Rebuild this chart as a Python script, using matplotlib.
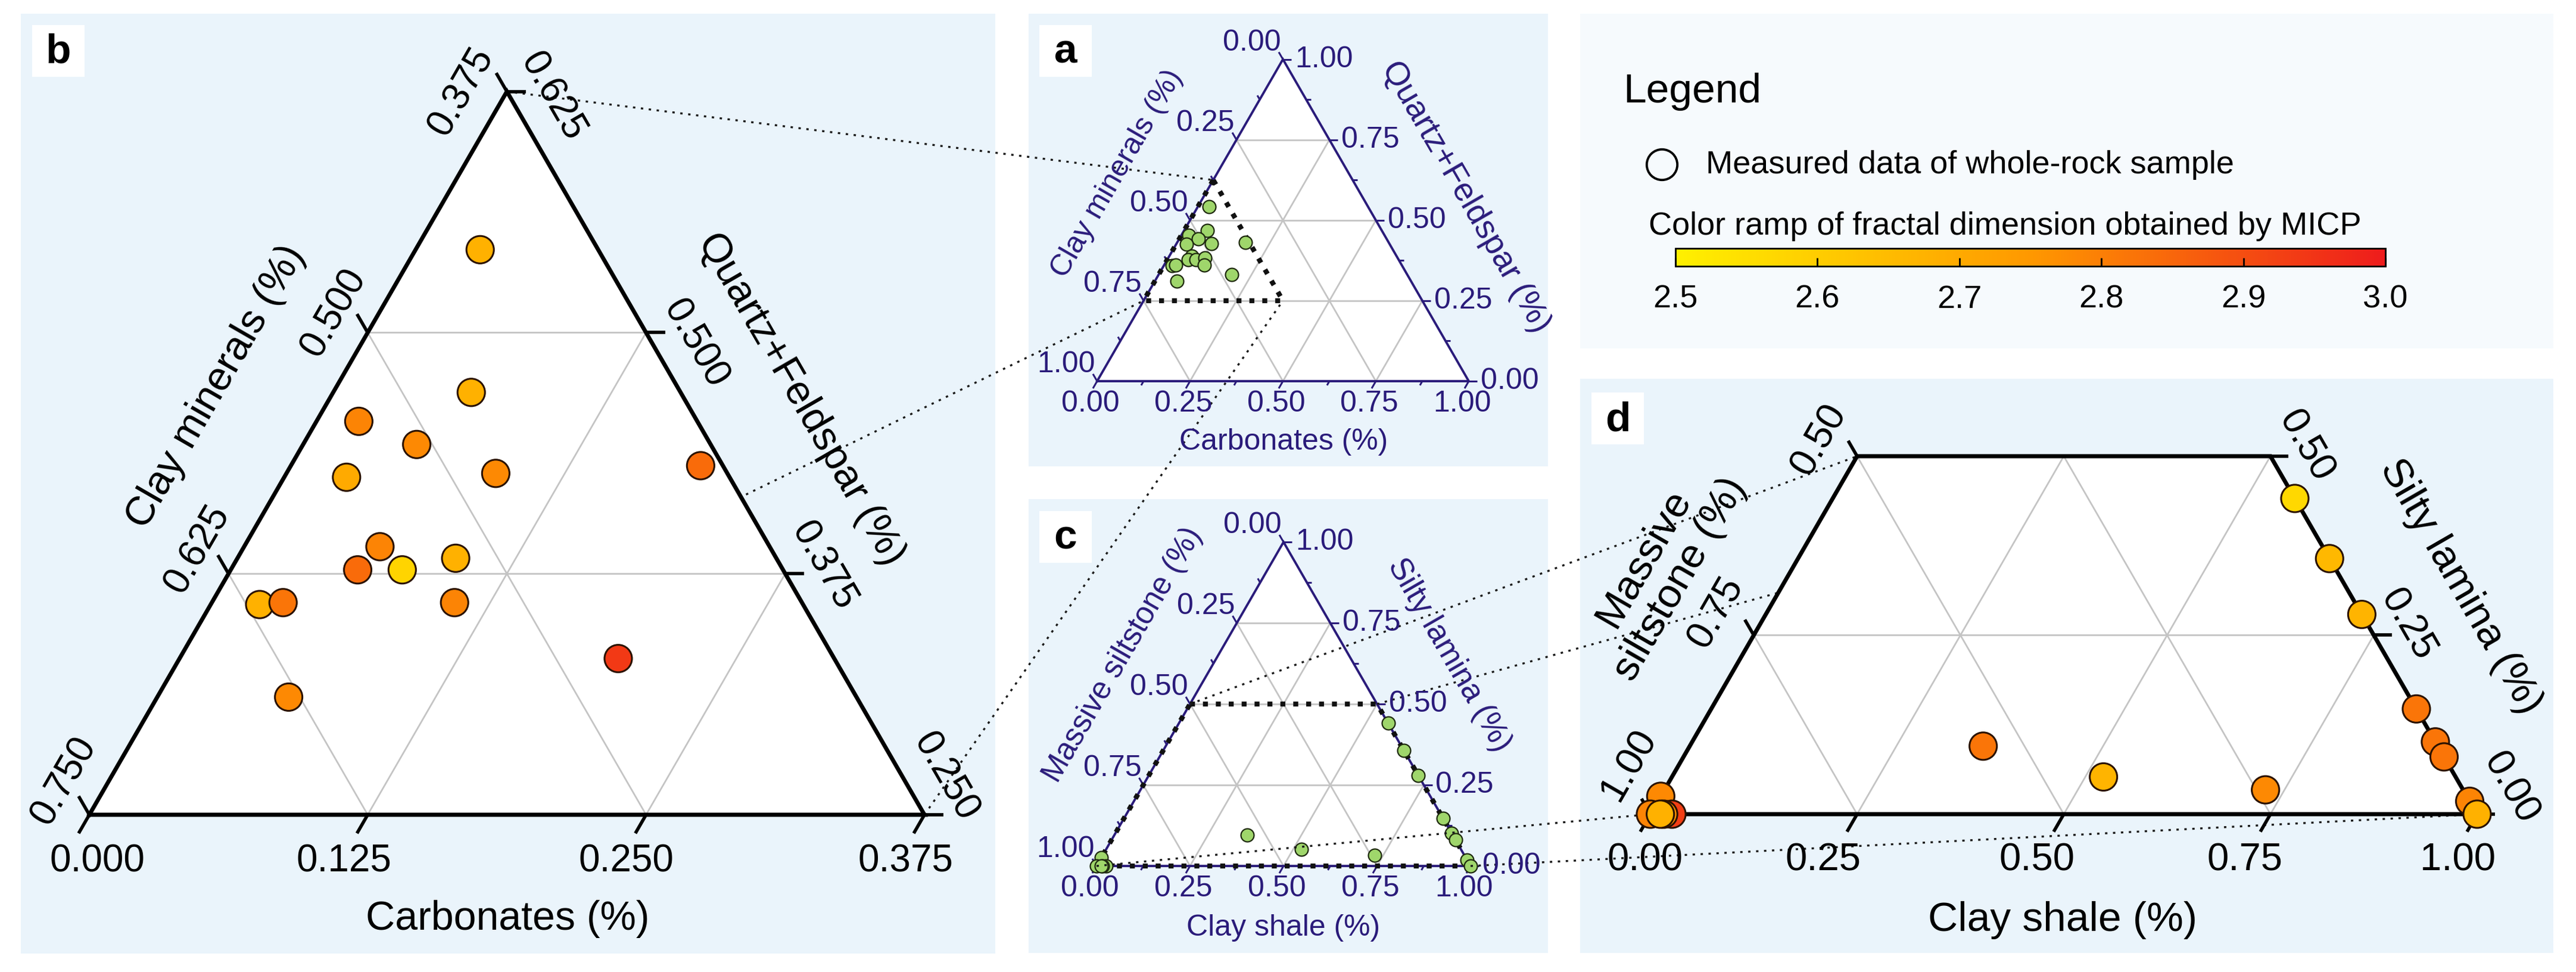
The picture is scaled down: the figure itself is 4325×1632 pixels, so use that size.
import numpy as np
import matplotlib.pyplot as plt
from matplotlib.colors import LinearSegmentedColormap, Normalize
from matplotlib.patches import Rectangle, Polygon
from matplotlib.cm import ScalarMappable

plt.rcParams['font.family'] = ['Liberation Sans', 'DejaVu Sans']

# ---- whole-rock mineralogy (fractions), panels a and b ----
carbonates = [0.029, 0.062, 0.019, 0.051, 0.028, 0.094, 0.184, 0.061,
              0.057, 0.077, 0.098, 0.109, 0.022, 0.032, 0.059, 0.197]
quartz_feldspar = [0.543, 0.469, 0.454, 0.442, 0.425, 0.427, 0.431, 0.389,
                   0.377, 0.377, 0.383, 0.360, 0.359, 0.360, 0.311, 0.331]
fd_mineral = [2.68, 2.68, 2.79, 2.78, 2.70, 2.78, 2.84, 2.79,
              2.84, 2.58, 2.68, 2.79, 2.68, 2.82, 2.78, 2.94]

# ---- lithofacies proportions (fractions), panels c and d ----
clay_shale = [0.0, 0.0, 0.026, 0.016, 0.012, 0.355, 0.522, 0.727,
              0.559, 0.643, 0.721, 0.853, 0.899, 0.920, 0.982, 1.0]
silty_lamina = [0.025, 0.0, 0.0, 0.0, 0.0, 0.095, 0.052, 0.034,
                0.441, 0.357, 0.279, 0.147, 0.101, 0.080, 0.018, 0.0]
fd_litho = [2.78, 2.79, 2.93, 2.77, 2.68, 2.82, 2.67, 2.78,
            2.57, 2.66, 2.67, 2.82, 2.82, 2.82, 2.79, 2.68]

# ---- tick values ----
ticks_full = [0.0, 0.25, 0.5, 0.75, 1.0]
ticks_b_carb = [0.0, 0.125, 0.25, 0.375]
ticks_b_clay = [0.375, 0.5, 0.625, 0.75]
ticks_b_qf = [0.25, 0.375, 0.5, 0.625]
ticks_d_cs = [0.0, 0.25, 0.5, 0.75, 1.0]
ticks_d_ms = [0.5, 0.75, 1.0]
ticks_d_sl = [0.0, 0.25, 0.5]
fd_ticks = [2.5, 2.6, 2.7, 2.8, 2.9, 3.0]

NAVY = '#2a1b7a'
GRID = '#c4c4c4'
BG = '#eaf4fb'
SQ = np.sqrt(3) / 2

cmap = LinearSegmentedColormap.from_list('fd', ['#fff000', '#ff9800', '#ee1c1c'])
norm = Normalize(2.5, 3.0)

# panel geometry in pixels: origin of the full triangle (bottom-left vertex) and side length
PAN = {
    'a': (1842, 640, 624),
    'b': (-317.4, 2177.5, 3739),
    'c': (1841, 1454, 628),
    'd': (2771, 1367, 1388),
}


def xy(p, r, t):
    ox, oy, s = PAN[p]
    r = np.asarray(r, float)
    t = np.asarray(t, float)
    return ox + (r + t / 2) * s, oy - t * SQ * s


fig = plt.figure(figsize=(43.25, 16.32), dpi=100)
ax = fig.add_axes([0, 0, 1, 1])
ax.set_xlim(0, 4325)
ax.set_ylim(1632, 0)
ax.axis('off')

# panel backgrounds
for x0, y0, x1, y1, c in [(35, 23, 1671, 1601, BG), (1727, 23, 2599, 783, BG),
                          (1727, 838, 2599, 1600, BG), (2653, 23, 4287, 585, '#f6fafd'),
                          (2653, 636, 4287, 1600, BG)]:
    ax.add_patch(Rectangle((x0, y0), x1 - x0, y1 - y0, fc=c, ec='none', zorder=0))

regions = {
    'a': [(0, 0), (1, 0), (0, 1)],
    'b': [(0, 0.25), (0.375, 0.25), (0, 0.625)],
    'c': [(0, 0), (1, 0), (0, 1)],
    'd': [(0, 0), (1, 0), (0.5, 0.5), (0, 0.5)],
}
grid_vals = {'a': [0.25, 0.5, 0.75], 'c': [0.25, 0.5, 0.75],
             'b': [0.125, 0.25, 0.375, 0.5, 0.625, 0.75, 0.875], 'd': [0.25, 0.5, 0.75]}
edge_col = {'a': NAVY, 'b': 'black', 'c': NAVY, 'd': 'black'}
edge_lw = {'a': 2.8, 'b': 5, 'c': 2.8, 'd': 5}
zbase = {'a': 1, 'b': 2, 'c': 1, 'd': 2}

for p, reg in regions.items():
    z = zbase[p]
    rr, tt = zip(*reg)
    px, py = xy(p, rr, tt)
    poly = Polygon(np.column_stack([px, py]), closed=True, fc='white', ec='none', zorder=z)
    ax.add_patch(poly)
    for v in grid_vals[p]:
        for (r0, t0), (r1, t1) in [((0, v), (1 - v, v)), ((v, 0), (v, 1 - v)), ((1 - v, 0), (0, 1 - v))]:
            gx, gy = xy(p, [r0, r1], [t0, t1])
            ln, = ax.plot(gx, gy, color=GRID, lw=2, zorder=z + 0.1)
            ln.set_clip_path(poly)
    ax.plot(np.append(px, px[0]), np.append(py, py[0]), color=edge_col[p], lw=edge_lw[p],
            zorder=z + 0.3, solid_joinstyle='miter')


def tick(p, pts, d, length, col, lw, z):
    for (x, y) in pts:
        ax.plot([x, x + d[0] * length], [y, y + d[1] * length], color=col, lw=lw,
                zorder=z, solid_capstyle='butt')


DL = (-0.5, 0.866)   # bottom-axis ticks
UL = (-0.5, -0.866)  # left-axis ticks
RT = (1.0, 0.0)      # right-axis ticks

# ---- panels a and c (navy small triangles) ----
titles_ac = {
    'a': ('Clay minerals (%)', (1876, 292), 36, 'Quartz+Feldspar (%)', (2461, 331), 40,
          'Carbonates (%)', (2155, 742)),
    'c': ('Massive siltstone (%)', (1885, 1100), 37, 'Silty lamina (%)', (2433, 1100), 38,
          'Clay shale (%)', (2155, 1558)),
}
for p in ['a', 'c']:
    minor = [0.125, 0.375, 0.625, 0.875]
    for vals, ln in [(ticks_full, 14), (minor, 8)]:
        v = np.array(vals)
        bx, by = xy(p, v, np.zeros_like(v))
        lx, ly = xy(p, np.zeros_like(v), 1 - v)
        rx, ry = xy(p, 1 - v, v)
        tick(p, zip(bx, by), DL, ln, NAVY, 2.2, 1.3)
        tick(p, zip(lx, ly), UL, ln, NAVY, 2.2, 1.3)
        tick(p, zip(rx, ry), RT, ln, NAVY, 2.2, 1.3)
    v = np.array(ticks_full)
    bx, by = xy(p, v, np.zeros_like(v))
    lx, ly = xy(p, np.zeros_like(v), 1 - v)
    rx, ry = xy(p, 1 - v, v)
    for i, val in enumerate(ticks_full):
        s = f'{val:.2f}'
        ax.text(bx[i] - 11, by[i] + 38, s, color=NAVY, fontsize=36, ha='center', va='center', zorder=5)
        ax.text(lx[i] - 52, ly[i] - 28, s, color=NAVY, fontsize=36, ha='center', va='center', zorder=5)
        ax.text(rx[i] + 20, ry[i], s, color=NAVY, fontsize=36, ha='left', va='center', zorder=5)
    lt, lp, lfs, rtt, rp, rfs, bt, bp = titles_ac[p]
    ax.text(*lp, lt, color=NAVY, fontsize=lfs, rotation=60, ha='center', va='center',
            rotation_mode='anchor', zorder=5)
    ax.text(*rp, rtt, color=NAVY, fontsize=rfs, rotation=-60, ha='center', va='center',
            rotation_mode='anchor', zorder=5)
    ax.text(*bp, bt, color=NAVY, fontsize=36, ha='center', va='center', zorder=5)

# dotted outlines of the zoomed areas
ox_, oy_ = xy('a', [0, 0, 0.375, 0], [0.625, 0.25, 0.25, 0.625])
ax.plot(ox_, oy_, color='#111111', lw=6, ls=(0, (1, 1.6)), zorder=1.35, dash_capstyle='butt')
ox_, oy_ = xy('c', [0, 0.5, 1, 0, 0], [0.5, 0.5, 0, 0, 0.5])
ax.plot(ox_, oy_, color='#111111', lw=6, ls=(0, (1, 1.6)), zorder=1.35, dash_capstyle='butt')

# green measured points
ax.scatter(*xy('a', carbonates, quartz_feldspar), s=250, c='#9fd66b', edgecolors='#1f2a10',
           linewidths=1.6, zorder=1.5)
ax.scatter(*xy('c', clay_shale, silty_lamina), s=250, c='#9fd66b', edgecolors='#1f2a10',
           linewidths=1.6, zorder=1.5)

# ---- connector lines between zoom areas ----
pairs = [
    (xy('b', 0, 0.625), xy('a', 0, 0.625)),
    (xy('b', 0, 0.25), xy('a', 0, 0.25)),
    (xy('b', 0.375, 0.25), xy('a', 0.375, 0.25)),
    (xy('c', 0, 0.5), xy('d', 0, 0.5)),
    (xy('c', 0.5, 0.5), xy('d', 0.5, 0.5)),
    (xy('c', 0, 0), xy('d', 0, 0)),
    (xy('c', 1, 0), xy('d', 1, 0)),
]
for (x0, y0), (x1, y1) in pairs:
    ax.plot([x0, x1], [y0, y1], color='#1a1a1a', lw=2.4, ls=(0, (1.2, 2.8)), zorder=1.8)

# ---- panel b ----
v = np.array(ticks_b_carb)
bx, by = xy('b', v, np.full_like(v, 0.25))
tick('b', zip(bx, by), DL, 36, 'black', 4, 2.4)
b_dx = [13, -40, -33, -32]
for i, val in enumerate(ticks_b_carb):
    ax.text(bx[i] + b_dx[i], by[i] + 79, f'{val:.3f}', fontsize=46, ha='center', va='center', zorder=5)
v = np.array(ticks_b_clay)
lx, ly = xy('b', np.zeros_like(v), 1 - v)
tick('b', zip(lx, ly), UL, 36, 'black', 4, 2.4)
b_lu = [-39, 0, 10, 28]
for i, val in enumerate(ticks_b_clay):
    cx = lx[i] + 66 * -0.866 + b_lu[i] * 0.5
    cy = ly[i] + 66 * -0.5 + b_lu[i] * -0.866
    ax.text(cx, cy, f'{val:.3f}', fontsize=46, rotation=60, ha='center', va='center',
            rotation_mode='anchor', zorder=5)
v = np.array(ticks_b_qf)
rx, ry = xy('b', 0.625 - v, v)
tick('b', zip(rx, ry), RT, 32, 'black', 4, 2.4)
b_rd = [-37, 21, 58, 46]
for i, val in enumerate(ticks_b_qf):
    cx = rx[i] + 62 * 0.866 + b_rd[i] * 0.5
    cy = ry[i] + 62 * -0.5 + b_rd[i] * 0.866
    ax.text(cx, cy, f'{val:.3f}', fontsize=46, rotation=-60, ha='center', va='center',
            rotation_mode='anchor', zorder=5)
ax.text(362, 650, 'Clay minerals (%)', fontsize=49, rotation=60, ha='center', va='center',
        rotation_mode='anchor', zorder=5)
ax.text(1345, 670, 'Quartz+Feldspar (%)', fontsize=49, rotation=-60, ha='center', va='center',
        rotation_mode='anchor', zorder=5)
ax.text(852, 1543, 'Carbonates (%)', fontsize=49, ha='center', va='center', zorder=5)
ax.scatter(*xy('b', carbonates, quartz_feldspar), s=1100, c=fd_mineral, cmap=cmap, norm=norm,
           edgecolors='#2a1200', linewidths=2.2, zorder=3)

# ---- panel d ----
v = np.array(ticks_d_cs)
bx, by = xy('d', v, np.zeros_like(v))
tick('d', zip(bx, by), DL, 34, 'black', 4, 2.4)
d_dx = [-9, -57, -45, -43, -32]
for i, val in enumerate(ticks_d_cs):
    ax.text(bx[i] + d_dx[i], by[i] + 78, f'{val:.2f}', fontsize=47, ha='center', va='center', zorder=5)
v = np.array(ticks_d_ms)
lx, ly = xy('d', np.zeros_like(v), 1 - v)
tick('d', zip(lx, ly), UL, 30, 'black', 4, 2.4)
d_ln = [69, 74, 73]
d_lu = [-8, 1, 53]
for i, val in enumerate(ticks_d_ms):
    cx = lx[i] + d_ln[i] * -0.866 + d_lu[i] * 0.5
    cy = ly[i] + d_ln[i] * -0.5 + d_lu[i] * -0.866
    ax.text(cx, cy, f'{val:.2f}', fontsize=47, rotation=60, ha='center', va='center',
            rotation_mode='anchor', zorder=5)
v = np.array(ticks_d_sl)
rx, ry = xy('d', 1 - v, v)
tick('d', zip(rx, ry), RT, 30, 'black', 4, 2.4)
d_rn = [71, 58, 60]
d_rd = [-10, 14, 15]
for i, val in enumerate(ticks_d_sl):
    cx = rx[i] + d_rn[i] * 0.866 + d_rd[i] * 0.5
    cy = ry[i] + d_rn[i] * -0.5 + d_rd[i] * 0.866
    ax.text(cx, cy, f'{val:.2f}', fontsize=47, rotation=-60, ha='center', va='center',
            rotation_mode='anchor', zorder=5)
ax.text(2790, 955, 'Massive\nsiltstone (%)', fontsize=50, rotation=60, ha='center', va='center',
        rotation_mode='anchor', linespacing=1.15, zorder=5)
ax.text(4131, 985, 'Silty lamina (%)', fontsize=50, rotation=-60, ha='center', va='center',
        rotation_mode='anchor', zorder=5)
ax.text(3463, 1545, 'Clay shale (%)', fontsize=50, ha='center', va='center', zorder=5)
ax.scatter(*xy('d', clay_shale, silty_lamina), s=1100, c=fd_litho, cmap=cmap, norm=norm,
           edgecolors='#2a1200', linewidths=2.2, zorder=3)

# ---- panel letters ----
for lab, (x0, y0) in {'b': (54, 42), 'a': (1745, 42), 'c': (1745, 858), 'd': (2672, 659)}.items():
    ax.add_patch(Rectangle((x0, y0), 88, 87, fc='white', ec='none', zorder=4))
    ax.text(x0 + 44, y0 + 46, lab, fontsize=50, fontweight='bold', ha='center', va='center', zorder=5)

# ---- legend ----
ax.text(2725, 172, 'Legend', fontsize=50, ha='left', va='baseline', zorder=5)
ax.plot([2790], [276], 'o', ms=37, mfc='none', mec='black', mew=2.8, zorder=5)
ax.text(2864, 277, 'Measured data of whole-rock sample', fontsize=39, ha='left', va='center', zorder=5)
ax.text(2768, 380, 'Color ramp of fractal dimension obtained by MICP', fontsize=39, ha='left',
        va='center', zorder=5)

cax = fig.add_axes([2813 / 4325, 1 - 447 / 1632, (4005 - 2813) / 4325, 30 / 1632])
cb = fig.colorbar(ScalarMappable(norm=norm, cmap=cmap), cax=cax, orientation='horizontal',
                  ticks=fd_ticks)
cb.outline.set_linewidth(2)
cax.tick_params(labelsize=39, length=10, width=2, direction='in', pad=22)
cax.set_xticklabels([f'{t:.1f}' for t in fd_ticks])

fig.savefig('out.png', dpi=100)
